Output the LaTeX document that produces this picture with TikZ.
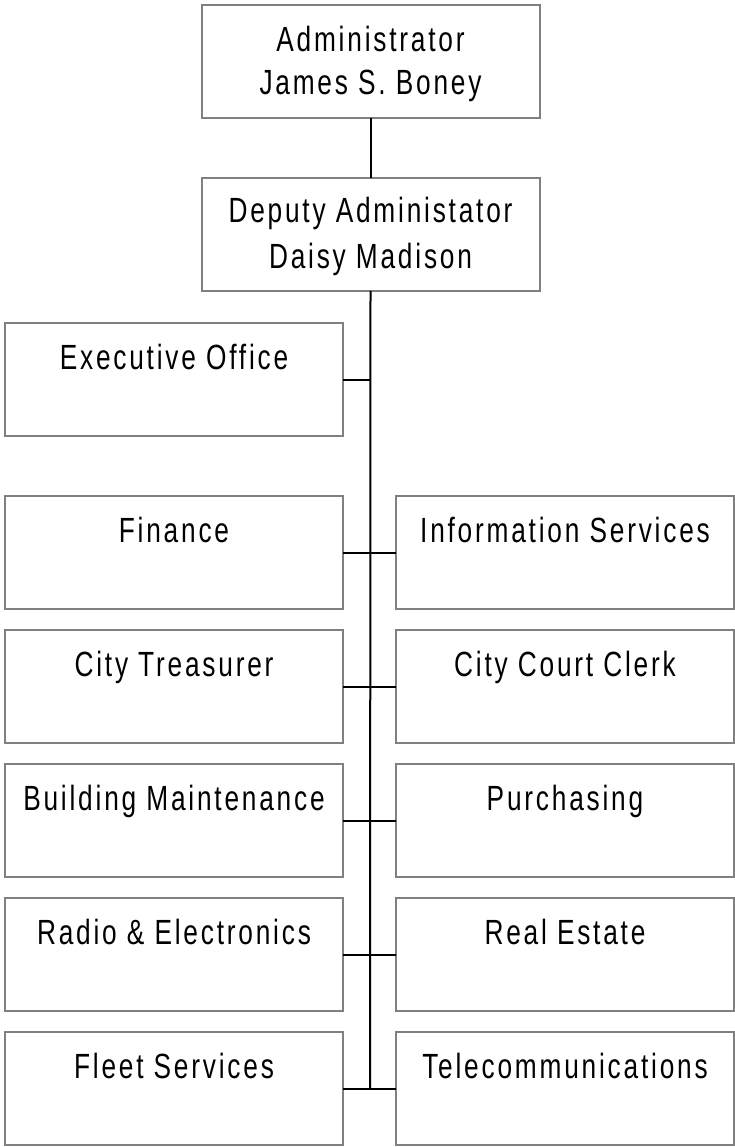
\documentclass[tikz,border=0pt]{standalone}
\usepackage{fontspec}
\setmainfont{Liberation Sans}[FakeStretch=0.75, LetterSpace=8]
\begin{document}
\begin{tikzpicture}[x=1pt,y=-1pt,
  box/.style={draw=black!50, line width=2pt, minimum width=338pt, minimum height=113pt, inner sep=0pt, outer sep=0pt},
  lbl/.style={anchor=base, inner sep=0pt, font=\fontsize{35}{43}\selectfont},
  conn/.style={draw=black, line width=2pt}]
\useasboundingbox (0,0) rectangle (735,1147);
% top boxes
\node[box] (adm) at (370.5,61.5) {};
\node[box] (dep) at (370.5,234.5) {};
\node[lbl] (admT1) at (370.5,52) {Administrator};
\node[lbl] (admT2) at (370.5,95) {James S. Boney};
\node[lbl] (depT1) at (370.5,223) {Deputy Administator};
\node[lbl] (depT2) at (370.5,269) {Daisy Madison};
% left column
\node[box] (exe) at (174,379.5) {};
\node[box] (fin) at (174,552.5) {};
\node[box] (tre) at (174,686.5) {};
\node[box] (bld) at (174,820.5) {};
\node[box] (rad) at (174,954.5) {};
\node[box] (flt) at (174,1088.5) {};
% right column
\node[box] (inf) at (565,552.5) {};
\node[box] (clk) at (565,686.5) {};
\node[box] (pur) at (565,820.5) {};
\node[box] (rea) at (565,954.5) {};
\node[box] (tel) at (565,1088.5) {};
% labels
\node[lbl] (exeT) at (174,369) {Executive Office};
\node[lbl] (finT) at (174,542) {Finance};
\node[lbl] (treT) at (174,676) {City Treasurer};
\node[lbl] (bldT) at (174,810) {Building Maintenance};
\node[lbl] (radT) at (174,944) {Radio \& Electronics};
\node[lbl] (fltT) at (174,1078) {Fleet Services};
\node[lbl] (infT) at (565,542) {Information Services};
\node[lbl] (clkT) at (565,676) {City Court Clerk};
\node[lbl] (purT) at (565,810) {Purchasing};
\node[lbl] (reaT) at (565,944) {Real Estate};
\node[lbl] (telT) at (565,1078) {Telecommunications};
% connectors
\coordinate (j0) at (370,379.5);
\coordinate (j5) at (370,1088.5);
\draw[conn] (adm.south) -- (dep.north);
\draw[conn] (dep.south) -- (j5);
\draw[conn] (exe.east) -- (j0);
\draw[conn] (fin.east) -- (inf.west);
\draw[conn] (tre.east) -- (clk.west);
\draw[conn] (bld.east) -- (pur.west);
\draw[conn] (rad.east) -- (rea.west);
\draw[conn] (flt.east) -- (tel.west);
\end{tikzpicture}
\end{document}
